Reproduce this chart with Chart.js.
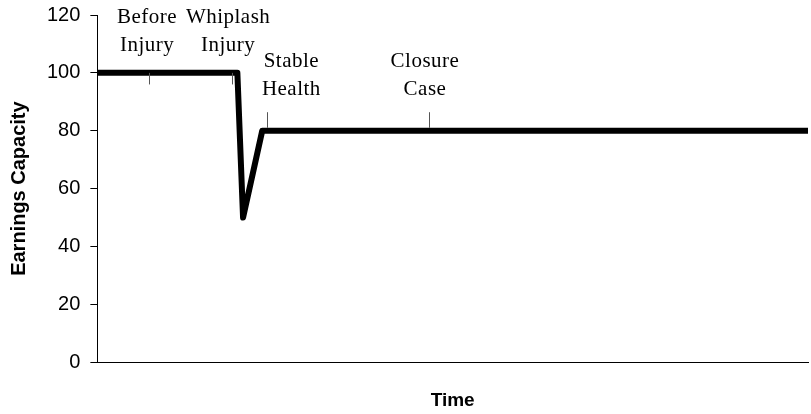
<!DOCTYPE html>
<html>
<head>
<meta charset="utf-8">
<script src="https://cdn.jsdelivr.net/npm/chart.js@4.4.1/dist/chart.umd.min.js"></script>
<style>
  body { margin: 0; background: #fff; }
  #wrap { width: 811px; height: 414px; }
</style>
</head>
<body>
<div id="wrap"><canvas id="earnChart" width="811" height="414"></canvas></div>
<script>
// the earnings path over time (x in arbitrary time units 0..100)
const timeX = [0, 19.7, 20.5, 23.2, 100]
const capacity = [100, 100, 50, 80, 80]
const yTicks = [0, 20, 40, 60, 80, 100, 120]

// phase notes: where the little marker sits and the two text lines above it
const noteX = [7.3, 18.9, 23.9, 46.6]
const noteTickLow = [96, 96, 81, 81]
const noteTickHigh = [100, 100, 86.4, 86.4]
const noteTextX = [7.0, 18.4, 27.3, 46.1]
const noteTextY = [119.3, 119.3, 103.8, 103.8]
const noteText = [['Before', 'Injury'], ['Whiplash', 'Injury'], ['Stable', 'Health'], ['Closure', 'Case']]

const points = timeX.map(function(x, i) { return {x: x, y: capacity[i]} })

const notesPlugin = {
  id: 'notes',
  afterDatasetsDraw(chart) {
    const ctx = chart.ctx
    const xs = chart.scales.x
    const ys = chart.scales.y
    ctx.save()
    ctx.strokeStyle = '#555'
    ctx.lineWidth = 1
    for (let i = 0; i < noteX.length; i++) {
      const px = Math.round(xs.getPixelForValue(noteX[i])) + 0.5
      ctx.beginPath()
      ctx.moveTo(px, ys.getPixelForValue(noteTickLow[i]))
      ctx.lineTo(px, ys.getPixelForValue(noteTickHigh[i]))
      ctx.stroke()
    }
    ctx.fillStyle = '#000'
    ctx.font = '21px "Liberation Serif"'
    ctx.textAlign = 'center'
    ctx.textBaseline = 'middle'
    if ('letterSpacing' in ctx) ctx.letterSpacing = '0.5px'
    for (let i = 0; i < noteText.length; i++) {
      const tx = xs.getPixelForValue(noteTextX[i])
      const ty = ys.getPixelForValue(noteTextY[i])
      noteText[i].forEach(function(line, k) {
        ctx.fillText(line, tx, ty + k * 28)
      })
    }
    ctx.restore()
  }
}

Chart.defaults.font.family = '"Liberation Sans", Arial, sans-serif'
Chart.defaults.color = '#000'

new Chart('earnChart', {
  type: 'line',
  data: {
    datasets: [{
      data: points,
      borderColor: '#000',
      borderWidth: 6,
      borderJoinStyle: 'round',
      pointRadius: 0,
      tension: 0,
      fill: false
    }]
  },
  options: {
    responsive: false,
    animation: false,
    events: [],
    layout: { padding: { top: 15, right: 3, left: 7, bottom: 2 } },
    plugins: { legend: { display: false }, tooltip: { enabled: false } },
    scales: {
      x: {
        type: 'linear',
        min: 0,
        max: 100,
        grid: { display: false, drawTicks: false },
        border: { display: true, color: '#000', width: 1 },
        ticks: { display: false },
        title: { display: true, text: 'Time', font: { size: 19, weight: 'bold' }, padding: { top: 27, bottom: 0 } }
      },
      y: {
        min: 0,
        max: 120,
        afterBuildTicks: function(axis) { axis.ticks = yTicks.map(function(v) { return {value: v} }) },
        afterFit: function(axis) { axis.paddingTop = 0 },
        grid: { drawOnChartArea: false, drawTicks: true, tickLength: 7, color: '#000' },
        border: { display: true, color: '#000', width: 1 },
        ticks: { font: { size: 20 }, padding: 10 },
        title: { display: true, text: 'Earnings Capacity', font: { size: 20, weight: 'bold' }, padding: { top: 0, bottom: 6 } }
      }
    }
  },
  plugins: [notesPlugin]
})
</script>
</body>
</html>
